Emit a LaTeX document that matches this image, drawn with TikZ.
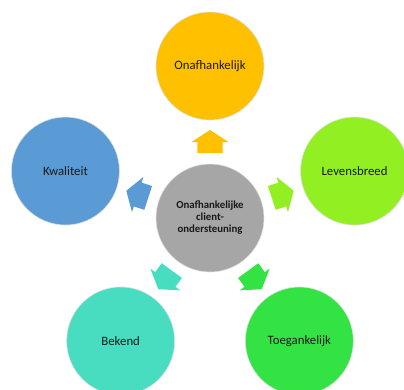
\documentclass[tikz,border=0pt]{standalone}
\usepackage{fontspec}
\setmainfont{Carlito}
\definecolor{cOrange}{HTML}{FFC000}
\definecolor{cBlue}{HTML}{5B9BD5}
\definecolor{cLime}{HTML}{92F022}
\definecolor{cTeal}{HTML}{48DDC0}
\definecolor{cGreen}{HTML}{33E344}
\definecolor{cGray}{HTML}{A6A6A6}
\begin{document}
\begin{tikzpicture}[x=1pt,y=1pt,
  bubble/.style={circle, minimum size=108pt, inner sep=0pt, draw=gray!25, line width=0.6pt,
    font=\fontsize{12.8}{14}\selectfont, text=black!90},
  hub/.style={bubble, font=\bfseries\fontsize{10.8}{12}\selectfont, align=center}]
\useasboundingbox (-210,-171) rectangle (194,218);
\node[hub, fill=cGray] (c) at (0,0) {Onafhankelijke\\client-\\ondersteuning};
\node[bubble, fill=cOrange] (o) at (90:152) {Onafhankelijk};
\node[bubble, fill=cLime] (l) at (18:152) {Levensbreed};
\node[bubble, fill=cBlue] (k) at (162:152) {Kwaliteit};
\node[bubble, fill=cTeal] (b) at (234:152) {Bekend};
\node[bubble, fill=cGreen] (t) at (306:152) {Toegankelijk};
\foreach \ang/\col in {90/cOrange, 18/cLime, 162/cBlue, 234/cTeal, 306/cGreen}{
  \begin{scope}[rotate=\ang]
    \fill[\col] (65,-12.5) -- (76,-12.5) -- (76,-18.5) -- (88,0) -- (76,18.5) -- (76,12.5) -- (65,12.5) -- cycle;
  \end{scope}
}
\end{tikzpicture}
\end{document}
